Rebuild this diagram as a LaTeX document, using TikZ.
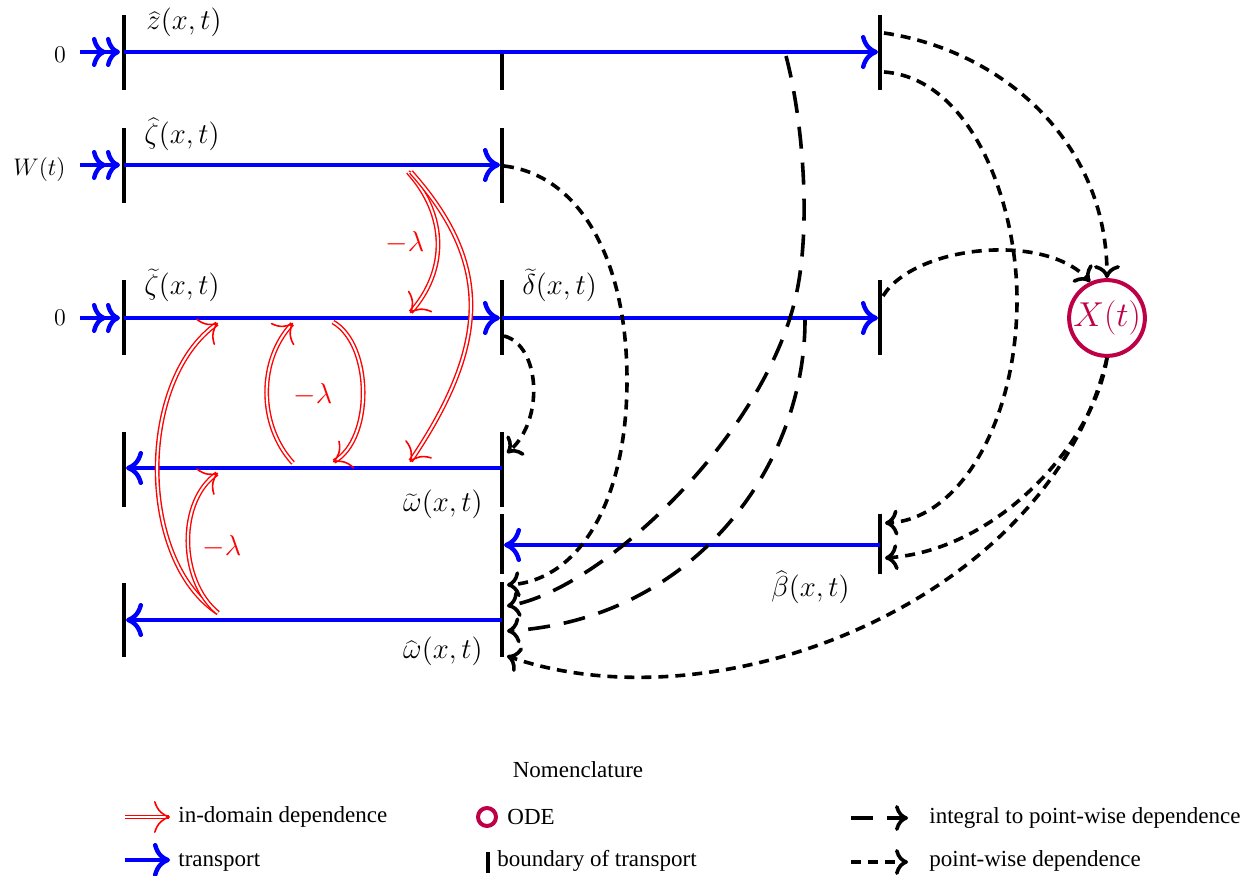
\documentclass[tikz,border=0pt]{standalone}
\usepackage{fontspec}
\setmainfont{Liberation Serif}
\usetikzlibrary{arrows.meta,calc}
\definecolor{odecol}{RGB}{190,0,70}
\newcommand{\rdarr}[4]{%
  \draw[indomainline] (#1) .. controls (#2) and (#3) .. (#4);
  \draw[indomaintip] ($(#4)!2pt!(#3)$) -- (#4);}
\begin{document}
\begin{tikzpicture}[x=0.5pt,y=-0.5pt,
  transport/.style={draw=blue, line width=2.2pt, -{Computer Modern Rightarrow[length=8.5pt,width=17pt]}},
  inputarr/.style={draw=blue, line width=2.2pt, -{Computer Modern Rightarrow[length=7pt,width=15pt] Computer Modern Rightarrow[length=7pt,width=15pt]}},
  bound/.style={draw=black, line width=2pt},
  indomainline/.style={draw=red, line width=0.7pt, double=white, double distance=1pt, shorten >=0.6pt},
  indomaintip/.style={draw=red, line width=0.8pt, -{Computer Modern Rightarrow[length=8pt,width=16pt]}},
  pointwise/.style={draw=black, line width=1.8pt, dash pattern=on 5pt off 3.5pt, -{Computer Modern Rightarrow[length=6.5pt,width=13pt]}},
  integral/.style={draw=black, line width=1.8pt, dash pattern=on 11pt off 7pt, -{Computer Modern Rightarrow[length=6.5pt,width=13pt]}},
  lbl/.style={inner sep=0pt, font=\fontsize{15.5}{18}\selectfont},
  side/.style={inner sep=0pt, font=\fontsize{13}{15}\selectfont},
  lam/.style={inner sep=0pt, text=red, font=\fontsize{15.5}{18}\selectfont},
  leg/.style={inner sep=0pt, font=\fontsize{11.5}{14}\selectfont, anchor=base west},
]
\useasboundingbox (0,0) rectangle (1249,876);

% ---------- boundaries ----------
\draw[bound] (124,15) -- (124,90);
\draw[bound] (502,52) -- (502,90);
\draw[bound] (880,15) -- (880,90);
\draw[bound] (124,128) -- (124,203);
\draw[bound] (502,128) -- (502,203);
\draw[bound] (124,280) -- (124,355);
\draw[bound] (502,280) -- (502,355);
\draw[bound] (880,280) -- (880,355);
\draw[bound] (124,432) -- (124,507);
\draw[bound] (502,432) -- (502,507);
\draw[bound] (502,514) -- (502,574);
\draw[bound] (880,514) -- (880,574);
\draw[bound] (124,583) -- (124,657);
\draw[bound] (502,582) -- (502,657);

% ---------- coordinates ----------
\coordinate (zs) at (124,52);   \coordinate (ze) at (878,52);
\coordinate (hs) at (124,165);  \coordinate (he) at (500,165);
\coordinate (ts) at (124,318);  \coordinate (te) at (500,318);
\coordinate (ds) at (502,318);  \coordinate (de) at (878,318);
\coordinate (ws) at (502,468);  \coordinate (we) at (126,468);
\coordinate (bs) at (880,545);  \coordinate (be) at (504,545);
\coordinate (os) at (502,620);  \coordinate (oe) at (126,620);
\coordinate (i1s) at (80,52);   \coordinate (i1e) at (120,52);
\coordinate (i2s) at (80,165);  \coordinate (i2e) at (120,165);
\coordinate (i3s) at (80,318);  \coordinate (i3e) at (120,318);

% ---------- transport ----------
\draw[transport] (zs) -- (ze);
\draw[transport] (hs) -- (he);
\draw[transport] (ts) -- (te);
\draw[transport] (ds) -- (de);
\draw[transport] (ws) -- (we);
\draw[transport] (bs) -- (be);
\draw[transport] (os) -- (oe);
\draw[inputarr] (i1s) -- (i1e);
\draw[inputarr] (i2s) -- (i2e);
\draw[inputarr] (i3s) -- (i3e);

% ---------- labels ----------
\node[side, anchor=base] (n0a) at (60,63) {$0$};
\node[side, anchor=base east] (nW) at (66,175.5) {$W(t)$};
\node[side, anchor=base] (n0b) at (60,326) {$0$};
\node[lbl, anchor=base west] (lz) at (146,30) {$\widehat{z}(x,t)$};
\node[lbl, anchor=base west] (lzh) at (144,144) {$\widehat{\zeta}(x,t)$};
\node[lbl, anchor=base west] (lzt) at (144,295) {$\widetilde{\zeta}(x,t)$};
\node[lbl, anchor=base west] (ldt) at (522,295) {$\widetilde{\delta}(x,t)$};
\node[lbl, anchor=base east] (lwt) at (483,512) {$\widetilde{\omega}(x,t)$};
\node[lbl, anchor=base east] (lwh) at (483,659) {$\widehat{\omega}(x,t)$};
\node[lbl, anchor=base west] (lbh) at (771,597) {$\widehat{\beta}(x,t)$};

% ---------- ODE ----------
\node[circle, draw=odecol, line width=2pt, minimum size=37pt, inner sep=0pt,
      text=odecol, font=\fontsize{17}{20}\selectfont] (X) at (1107,318) {$X(t)$};

% ---------- in-domain ----------
\coordinate (r1s) at (408,172); \coordinate (r1e) at (410,313);
\coordinate (r2s) at (411,172); \coordinate (r2e) at (410,462);
\coordinate (r3s) at (293,463); \coordinate (r3e) at (293,323);
\coordinate (r4s) at (333,322); \coordinate (r4e) at (333,462);
\coordinate (r5s) at (218,613); \coordinate (r5e) at (218,323);
\coordinate (r6e) at (218,473);
\rdarr{r1s}{447,215}{448,270}{r1e}
\rdarr{r2s}{491,262}{491,342}{r2e}
\rdarr{r3s}{258,425}{258,360}{r3e}
\rdarr{r4s}{373,345}{373,440}{r4e}
\rdarr{r5s}{137,560}{137,380}{r5e}
\rdarr{r5s}{178,580}{178,500}{r6e}
\node[lam] (lam1) at (405,243) {$-\lambda$};
\node[lam] (lam2) at (313,395) {$-\lambda$};
\node[lam] (lam3) at (222,547) {$-\lambda$};

% ---------- dependences ----------
\coordinate (pa) at (884,33);
\coordinate (pb) at (884,72);
\coordinate (pbe) at (885,523);
\coordinate (pc) at (883,296);
\coordinate (pde) at (885,558);
\coordinate (pee) at (507,656);
\coordinate (pf) at (504,166);
\coordinate (pfe) at (507,585);
\coordinate (pg) at (786,56);
\coordinate (pge) at (507,606);
\coordinate (ph) at (805,320);
\coordinate (phe) at (507,631);
\coordinate (pi) at (504,336);
\coordinate (pie) at (507,453);
\draw[pointwise] (pa) .. controls (1000,50) and (1107,140) .. (X.north);
\draw[pointwise] (pb) .. controls (970,78) and (1017,200) .. (1017,300) .. controls (1017,420) and (960,520) .. (pbe);
\draw[pointwise] (pc) .. controls (915,245) and (1045,232) .. (X.115);
\draw[pointwise] (X.south) .. controls (1095,440) and (1000,550) .. (pde);
\draw[pointwise] (X.south) .. controls (1050,600) and (720,730) .. (pee);
\draw[pointwise] (pf) .. controls (580,175) and (627,260) .. (627,380) .. controls (627,500) and (580,580) .. (pfe);
\draw[integral] (pg) .. controls (803,120) and (812,230) .. (795,300) .. controls (761,440) and (600,590) .. (pge);
\draw[integral] (ph) .. controls (805,470) and (690,620) .. (phe);
\draw[pointwise] (pi) .. controls (540,345) and (545,420) .. (pie);

% ---------- legend ----------
\node[leg, anchor=base] (nom) at (578,778) {Nomenclature};
\coordinate (la1) at (125,817); \coordinate (la2) at (170,817);
\draw[indomainline] (la1) -- (la2);
\draw[indomaintip] ($(la2)!2pt!(la1)$) -- (la2);
\node[leg] (t1) at (178,823) {in-domain dependence};
\node[circle, draw=odecol, line width=2pt, minimum size=9pt, inner sep=0pt] (odec) at (487,817) {};
\node[leg] (t2) at (507,825) {ODE};
\coordinate (lc1) at (851,818); \coordinate (lc2) at (908,818);
\draw[integral] (lc1) -- (lc2);
\node[leg] (t3) at (929,824) {integral to point-wise dependence};
\coordinate (lb1) at (125,860); \coordinate (lb2) at (170,860);
\draw[transport] (lb1) -- (lb2);
\node[leg] (t4) at (178,867) {transport};
\draw[bound] (488,852) -- (488,873);
\node[leg] (t5) at (497,867) {boundary of transport};
\coordinate (ld1) at (851,862); \coordinate (ld2) at (908,862);
\draw[pointwise] (ld1) -- (ld2);
\node[leg] (t6) at (929,867) {point-wise dependence};
\end{tikzpicture}
\end{document}
